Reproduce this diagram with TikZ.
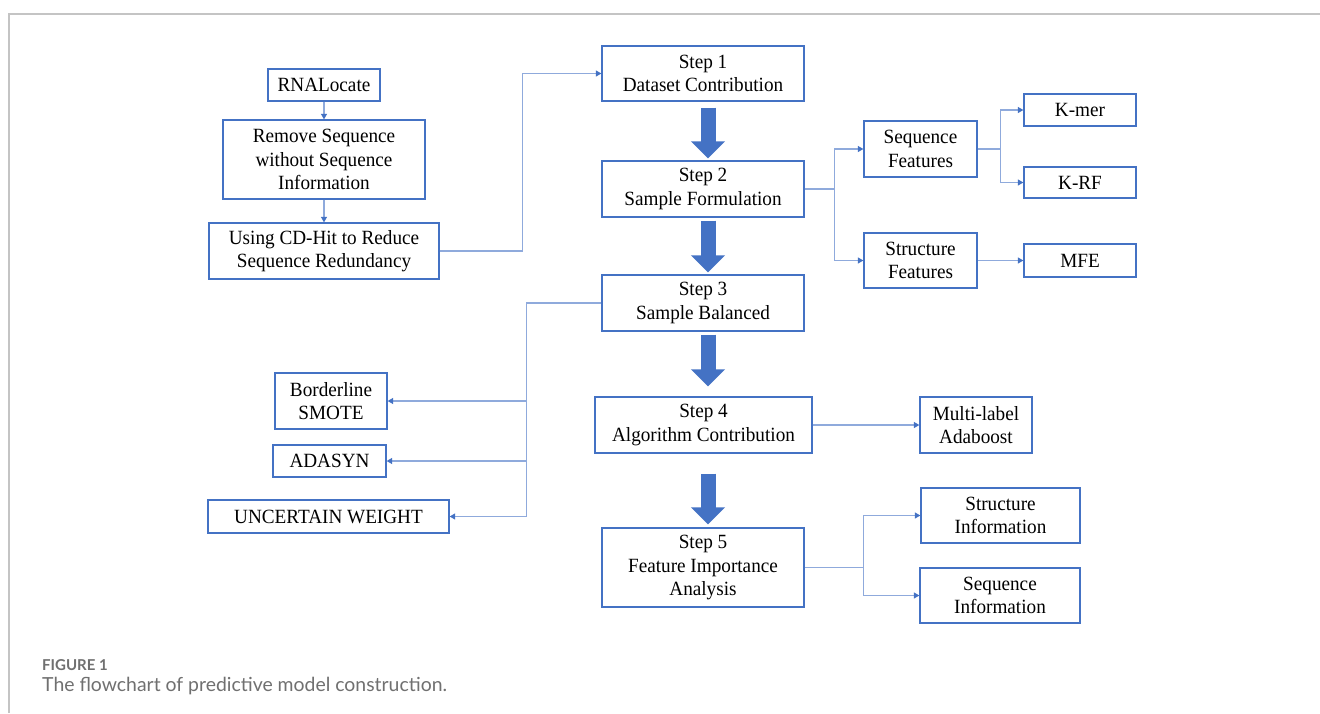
\documentclass[tikz,border=0pt]{standalone}
\usepackage{fontspec}
\setmainfont{Liberation Serif}[FakeStretch=0.95]
\newfontfamily\capfont{Lato}
\usetikzlibrary{arrows.meta,calc}
\definecolor{boxblue}{HTML}{4472C4}
\definecolor{linkblue}{HTML}{8FAADC}
\definecolor{framegray}{HTML}{C4C4C4}
\definecolor{capgray}{HTML}{707070}
\begin{document}
\begin{tikzpicture}[x=1pt,y=-1pt,
  box/.style={draw=boxblue, line width=1.3pt, fill=white, inner sep=0pt, align=center,
    font=\fontsize{20.2}{23.3}\selectfont, text=black},
  linkline/.style={draw=linkblue, line width=1.1pt},
  conn/.style={linkline, -{Triangle[width=6pt,length=5.5pt,color=boxblue]}},
  barrow/.style={draw=boxblue, line width=15pt, -{Triangle[width=33pt,length=17pt]}},
  captext/.style={anchor=base west, inner sep=0pt, text=capgray}
]
\useasboundingbox (0,0) rectangle (1320,713);
\fill[white] (0,0) rectangle (1320,713);
% card frame
\draw[framegray, line width=1.5pt] (9,713) -- (9,14) -- (1320,14);

% left pipeline
\node[box, minimum width=112pt, minimum height=32pt] (rna) at (324,85) {RNALocate};
\node[box, minimum width=202pt, minimum height=79pt] (remove) at (324,159.5) {Remove Sequence\\without Sequence\\Information};
\node[box, minimum width=230pt, minimum height=56pt] (cdhit) at (324,251) {Using CD-Hit to Reduce\\Sequence Redundancy};

% steps
\node[box, minimum width=202pt, minimum height=55pt] (s1) at (703,73.5) {Step 1\\Dataset Contribution};
\node[box, minimum width=202pt, minimum height=56pt] (s2) at (703,189) {Step 2\\Sample Formulation};
\node[box, minimum width=202pt, minimum height=56pt] (s3) at (703,303) {Step 3\\Sample Balanced};
\node[box, minimum width=217pt, minimum height=56pt] (s4) at (703.5,425) {Step 4\\Algorithm Contribution};
\node[box, minimum width=202pt, minimum height=79pt] (s5) at (703,567.5) {Step 5\\Feature Importance\\Analysis};

% features
\node[box, minimum width=113pt, minimum height=56pt] (seqf) at (920.5,149) {Sequence\\Features};
\node[box, minimum width=113pt, minimum height=55pt] (strf) at (920.5,260.5) {Structure\\Features};
\node[box, minimum width=112pt, minimum height=32pt] (kmer) at (1080,110) {K-mer};
\node[box, minimum width=112pt, minimum height=31pt] (krf) at (1080,182.5) {K-RF};
\node[box, minimum width=112pt, minimum height=33pt] (mfe) at (1080,260.5) {MFE};

% balancing methods
\node[box, minimum width=112pt, minimum height=56pt] (smote) at (331,401) {Borderline\\SMOTE};
\node[box, minimum width=113pt, minimum height=32pt] (adasyn) at (329.5,461) {ADASYN};
\node[box, minimum width=241pt, minimum height=33pt] (uw) at (328.5,516.5) {UNCERTAIN WEIGHT};

% algorithm / analysis outputs
\node[box, minimum width=112pt, minimum height=56pt] (multi) at (976,425) {Multi-label\\Adaboost};
\node[box, minimum width=159pt, minimum height=55pt] (strinfo) at (1000.5,515.5) {Structure\\Information};
\node[box, minimum width=160pt, minimum height=55pt] (seqinfo) at (1000,595.5) {Sequence\\Information};

% thin connectors
\draw[conn] (rna) -- (remove);
\draw[conn] (remove) -- (cdhit);
\draw[conn] (cdhit.east) -- ++(83,0) |- (s1.west);

\coordinate (j2) at ($(s2.east)+(30,0)$);
\draw[linkline] (s2.east) -- (j2);
\draw[conn] (j2) |- (seqf.west);
\draw[conn] (j2) |- (strf.west);

\coordinate (jf) at ($(seqf.east)+(23,0)$);
\draw[linkline] (seqf.east) -- (jf);
\draw[conn] (jf) |- (kmer.west);
\draw[conn] (jf) |- (krf.west);
\draw[conn] (strf) -- (mfe);

\coordinate (j3) at ($(s3.west)+(-75,0)$);
\draw[linkline] (s3.west) -- (j3);
\draw[conn] (j3) |- (smote.east);
\draw[conn] (j3) |- (adasyn.east);
\draw[conn] (j3) |- (uw.east);

\draw[conn] (s4) -- (multi);

\coordinate (j5) at ($(s5.east)+(59,0)$);
\draw[linkline] (s5.east) -- (j5);
\draw[conn] (j5) |- (strinfo.west);
\draw[conn] (j5) |- (seqinfo.west);

% block arrows between steps
\coordinate (a1) at ($(s1.south)+(5,6)$);
\draw[barrow] (a1) -- ($(a1 |- s2.north)+(0,-2)$);
\coordinate (a2) at ($(s2.south)+(5,3)$);
\draw[barrow] (a2) -- ($(a2 |- s3.north)+(0,-2)$);
\coordinate (a3) at ($(s3.south)+(5,3)$);
\draw[barrow] (a3) -- ($(a3 |- s4.north)+(0,-10)$);
\coordinate (a4) at ($(s4.south)+(4.5,20)$);
\draw[barrow] (a4) -- ($(a4 |- s5.north)+(0,-3)$);

% caption
\node[captext, font=\capfont\bfseries\fontsize{15}{18}\selectfont] (figlabel) at (42,670) {FIGURE 1};
\node[captext, font=\capfont\fontsize{19.4}{23}\selectfont] (caption) at (42,691) {The flowchart of predictive model construction.};
\end{tikzpicture}
\end{document}
